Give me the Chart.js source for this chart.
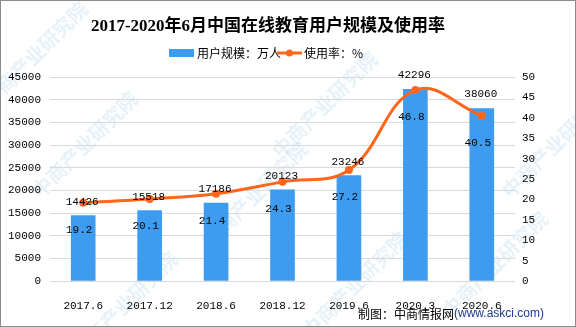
<!DOCTYPE html>
<html>
<head>
<meta charset="utf-8">
<script src="https://cdn.jsdelivr.net/npm/chart.js@4.4.0/dist/chart.umd.min.js"></script>
<style>
  html, body { margin: 0; padding: 0; background: #fff; }
  #wrap { width: 576px; height: 327px; position: relative; }
</style>
</head>
<body>
<div id="wrap"><canvas id="chart" width="576" height="327"></canvas></div>
<script>
// data
const categories = ['2017.6', '2017.12', '2018.6', '2018.12', '2019.6', '2020.3', '2020.6'];
const users      = [14426, 15518, 17186, 20123, 23246, 42296, 38060];   // 万人
const usageRate  = [19.2, 20.1, 21.4, 24.3, 27.2, 46.8, 40.5];           // %

const TITLE = '2017-2020年6月中国在线教育用户规模及使用率';
const BAR_COLOR  = '#3d9cf0';
const LINE_COLOR = '#ff661a';
const MONO = '11px "Liberation Mono", "DejaVu Sans Mono", monospace';
const CJK  = '"Noto Sans CJK SC", sans-serif';

// title, legend, footer, watermark, value labels
const decor = {
  id: 'decor',
  beforeDraw(chart) {
    const ctx = chart.ctx;
    ctx.save();
    ctx.fillStyle = '#fff';
    ctx.fillRect(0, 0, chart.width, chart.height);
    // faint watermark
    ctx.fillStyle = 'rgba(170, 205, 235, 0.28)';
    ctx.font = 'bold 20px ' + CJK;
    const marks = [[90, 150], [330, 110], [560, 150], [130, 310], [360, 290], [260, 200], [500, 270], [40, 60]];
    marks.forEach(([x, y]) => {
      ctx.save();
      ctx.translate(x, y);
      ctx.rotate(-Math.PI / 4);
      ctx.fillText('中商产业研究院', -70, 0);
      ctx.restore();
    });
    ctx.restore();
  },
  afterDatasetsDraw(chart) {
    const ctx = chart.ctx;
    ctx.save();
    ctx.fillStyle = '#000';
    ctx.font = MONO;
    ctx.textAlign = 'center';
    ctx.textBaseline = 'middle';
    const lineMeta = chart.getDatasetMeta(0);
    const barMeta = chart.getDatasetMeta(1);
    barMeta.data.forEach((bar, i) => {
      ctx.fillText(String(users[i]), bar.x - 1, bar.y - 14);
    });
    lineMeta.data.forEach((pt, i) => {
      ctx.fillText(usageRate[i].toFixed(1), pt.x - 4, pt.y + 27);
    });
    ctx.restore();
  },
  afterDraw(chart) {
    const ctx = chart.ctx;
    ctx.save();
    // title
    ctx.fillStyle = '#000';
    ctx.textAlign = 'center';
    ctx.textBaseline = 'middle';
    ctx.font = 'bold 17px "Liberation Serif", "DejaVu Serif", ' + CJK;
    ctx.fillText(TITLE, 268, 27);

    // legend
    ctx.textAlign = 'left';
    ctx.font = '12px ' + CJK;
    ctx.fillStyle = BAR_COLOR;
    ctx.fillRect(169, 49, 25, 8);
    ctx.fillStyle = '#000';
    ctx.fillText('用户规模：万人', 197, 53);
    ctx.strokeStyle = LINE_COLOR;
    ctx.lineWidth = 3;
    ctx.beginPath();
    ctx.moveTo(277, 53);
    ctx.lineTo(302, 53);
    ctx.stroke();
    ctx.fillStyle = LINE_COLOR;
    ctx.beginPath();
    ctx.arc(289.5, 53, 3.5, 0, Math.PI * 2);
    ctx.fill();
    ctx.fillStyle = '#000';
    ctx.fillText('使用率：%', 304, 53);

    // footer
    ctx.font = '12px ' + CJK;
    ctx.fillText('制图：中商情报网', 358, 314);
    ctx.fillStyle = '#1f3a8a';
    ctx.font = '12px "Liberation Sans", Arial, sans-serif';
    ctx.fillText('(www.askci.com)', 454, 314);

    // frame
    ctx.strokeStyle = '#8c8c8c';
    ctx.lineWidth = 1;
    ctx.strokeRect(0.5, 0.5, chart.width - 1, chart.height - 1);
    ctx.restore();
  }
};

const tickFont = { family: '"Liberation Mono", monospace', size: 11 };

new Chart(document.getElementById('chart'), {
  data: {
    labels: categories,
    datasets: [
      {
        type: 'line',
        label: '使用率：%',
        data: usageRate,
        yAxisID: 'yRate',
        borderColor: LINE_COLOR,
        backgroundColor: LINE_COLOR,
        borderWidth: 3,
        tension: 0.4,
        pointRadius: 4,
        pointBorderWidth: 0,
        order: 0,
      },
      {
        type: 'bar',
        label: '用户规模：万人',
        data: users,
        yAxisID: 'yUsers',
        backgroundColor: BAR_COLOR,
        barThickness: 24,
        order: 1,
      }
    ]
  },
  options: {
    responsive: false,
    animation: false,
    layout: { padding: { top: 77, left: 0, right: 0, bottom: 0 } },
    plugins: {
      legend: { display: false },
      title: { display: false },
      tooltip: { enabled: false },
    },
    scales: {
      x: {
        offset: true,
        grid: { display: false },
        border: { display: false },
        ticks: { color: '#000', font: tickFont, padding: 10, maxRotation: 0 },
        afterFit: (s) => { s.height = 46; },
      },
      yUsers: {
        position: 'left',
        min: 0,
        max: 45000,
        grid: { color: '#d9d9d9', drawTicks: false },
        border: { display: false },
        ticks: { stepSize: 5000, color: '#000', font: tickFont, padding: 9, callback: (v) => String(v) },
        afterFit: (s) => { s.width = 50; },
      },
      yRate: {
        position: 'right',
        min: 0,
        max: 50,
        grid: { display: false, drawTicks: false },
        border: { display: false },
        ticks: { stepSize: 5, color: '#000', font: tickFont, padding: 7, callback: (v) => String(v) },
        afterFit: (s) => { s.width = 61; },
      }
    }
  },
  plugins: [decor]
});
</script>
</body>
</html>
